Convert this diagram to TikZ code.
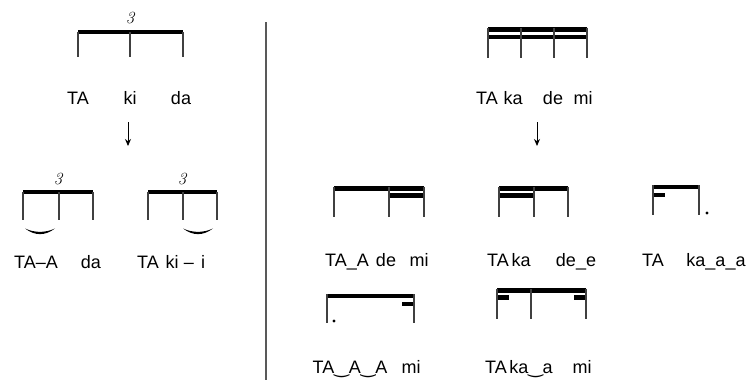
\documentclass[tikz,border=0pt]{standalone}
\usepackage{fontspec}
\setmainfont{Liberation Sans}
\newfontfamily\lmfont{Latin Modern Roman}
\newfontfamily\tiefont{DejaVu Sans}
\usetikzlibrary{arrows.meta}
\begin{document}
\begin{tikzpicture}
[x=1pt, y=-1pt,
  stemdecorate/.style={line width=1.1pt, draw=black!75},
  beamdecorate/.style={line width=4.8pt},
  syllabledecorate/.style={font=\fontsize{18}{20}\selectfont, inner sep=0pt, anchor=base},
  tupletdecorate/.style={font=\lmfont\itshape\fontsize{17}{18}\selectfont, inner sep=0pt},
  slurdecorate/.style={fill=black},
  arrowdecorate/.style={-{Stealth[length=7pt,width=6pt]}, line width=1pt}]
\useasboundingbox (0,0) rectangle (749,380);
%% divider
\coordinate (divtop) at (266,22);
\coordinate (divbot) at (266,380);
\draw[line width=1.2pt, draw=black!65] (divtop) -- (divbot);
%% triplet groups
\foreach \a/\b/\c/\ybeam/\yend in {78/130/183/32/57, 23/59/93/192/220, 148/183/217/192/220}
{
  \draw[beamdecorate] (\a,\ybeam) -- (\c,\ybeam);
  \foreach \x in {\a,\b,\c}
    \draw[stemdecorate] (\x,\ybeam) -- (\x,\yend);
}
\foreach \nodename/\x/\y in {tripA/130/18, tripB/58/179, tripC/182/179}
{
  \node (\nodename) at (\x,\y) [tupletdecorate] {3};
}
%% slurs
\foreach \s/\e in {25/55, 183/213}
{
  \path[slurdecorate] (\s,228.5) .. controls (\s+10,236) and (\e-10,236) .. (\e,228.5)
    .. controls (\e-10,233) and (\s+10,233) .. cycle;
}
%% sixteenth group on top
\draw[beamdecorate] (488,29.5) -- (587,29.5);
\draw[beamdecorate] (488,37) -- (587,37);
\foreach \x in {488,521,554,587}
  \draw[stemdecorate] (\x,27.5) -- (\x,58);
%% middle row
\draw[beamdecorate] (334,188.5) -- (424,188.5);
\draw[beamdecorate] (389,195.5) -- (424,195.5);
\foreach \x in {334,389,424}
  \draw[stemdecorate] (\x,186.5) -- (\x,217);
\draw[beamdecorate] (499,188.5) -- (568,188.5);
\draw[beamdecorate] (499,195.5) -- (534,195.5);
\foreach \x in {499,534,568}
  \draw[stemdecorate] (\x,186.5) -- (\x,217);
\draw[beamdecorate] (653,187) -- (699,187);
\draw[beamdecorate] (653,195) -- (665,195);
\foreach \x in {653,699}
  \draw[stemdecorate] (\x,185) -- (\x,215);
\fill (707,213) circle[radius=1.6];
%% bottom row
\draw[beamdecorate] (327,296) -- (414,296);
\draw[beamdecorate] (402,304) -- (414,304);
\foreach \x in {327,414}
  \draw[stemdecorate] (\x,294) -- (\x,323);
\fill (334,321) circle[radius=1.6];
\draw[beamdecorate] (497,290.5) -- (586,290.5);
\draw[beamdecorate] (497,297.5) -- (509,297.5);
\draw[beamdecorate] (574,297.5) -- (586,297.5);
\foreach \x in {497,531,586}
  \draw[stemdecorate] (\x,288.5) -- (\x,319);
%% syllables
\foreach \nodename/\x/\y/\word in {ta/78/104/TA, ki/130/104/ki, da/181/104/da,
  taaL/36/268/{TA–A}, daL/91/268/da, taR/148/268/TA, kiR/172/268/ki, dashR/189/268/–, iR/203/268/i,
  taT/487/104/TA, kaT/513/104/ka, deT/553/104/de, miT/583/104/mi,
  taaA/347/266/{TA\_A}, deA/386/266/de, miA/419/266/mi,
  taB/498/266/TA, kaB/521/266/ka, deeB/576/266/{de\_e},
  taC/653/266/TA, kaaaC/716/266/{ka\_a\_a},
  taaaD/350/373/{TA{\tiefont ‿}A{\tiefont ‿}A}, miD/411/373/mi,
  taE/496/373/TA, kaaE/531/373/{ka{\tiefont ‿}a}, miE/582/373/mi}
{
  \node (\nodename) at (\x,\y) [syllabledecorate] {\word};
}
%% arrows
\coordinate (arrowLtop) at (128,122);
\coordinate (arrowLbot) at (128,146);
\coordinate (arrowRtop) at (537,122);
\coordinate (arrowRbot) at (537,146);
\draw[arrowdecorate] (arrowLtop) -- (arrowLbot);
\draw[arrowdecorate] (arrowRtop) -- (arrowRbot);
\end{tikzpicture}
\end{document}
